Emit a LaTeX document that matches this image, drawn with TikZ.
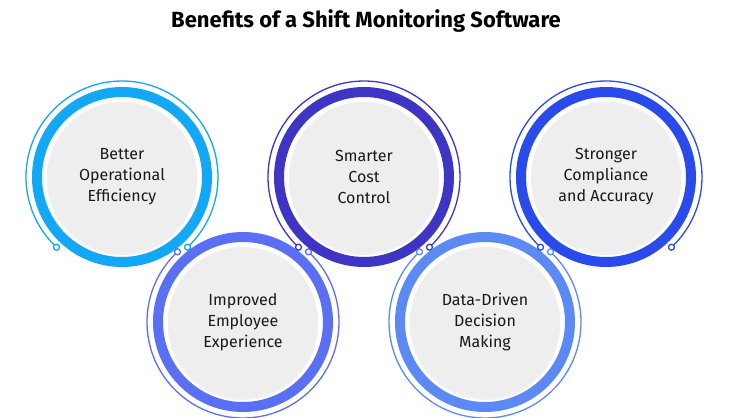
\documentclass[tikz,border=0pt]{standalone}
\usepackage{fontspec}
\setmainfont{Fira Sans}
\begin{document}
\begin{tikzpicture}[x=1pt,y=-1pt,
  disc/.style={circle,fill=gray!13,minimum size=150pt,inner sep=0pt,align=center,font=\fontsize{16}{21}\selectfont,text=black!90},
  ring/.style={line width=10pt},
  thin/.style={line width=1.3pt},
  dot/.style={circle,draw,fill=white,line width=1.3pt,minimum size=6pt,inner sep=0pt}]
\useasboundingbox (0,0) rectangle (732,418);
\fill[white] (0,0) rectangle (732,418);
\node[font=\fontsize{22}{24}\selectfont\bfseries] (title) at (366,21) {Benefits of a Shift Monitoring Software};
\definecolor{c1}{HTML}{12A8F5}
\definecolor{c2}{HTML}{5B6FF5}
\definecolor{c3}{HTML}{3F35C4}
\definecolor{c4}{HTML}{5B8AF5}
\definecolor{c5}{HTML}{2A4BEB}
\foreach \n/\x/\y/\c/\t/\top in {
  a/122/177/c1/{Better\\Operational\\Efficiency}/1,
  b/243/322/c2/{Improved\\Employee\\Experience}/0,
  c/364/177/c3/{Smarter\\Cost\\Control}/1,
  d/485/322/c4/{Data-Driven\\Decision\\Making}/0,
  e/606/177/c5/{Stronger\\Compliance\\and Accuracy}/1}{
  \draw[ring,\c] (\x,\y) circle[radius=85];
  \fill[black,opacity=0.06] (\x,\y+3) circle[radius=75];
  \node[disc] (\n) at (\x,\y) {\t};
  \ifnum\top=1
    \draw[thin,\c] (\x,\y) ++(47:96) coordinate (\n1) arc[start angle=47,end angle=-227,radius=96] coordinate (\n2);
  \else
    \draw[thin,\c] (\x,\y) ++(-133:96) coordinate (\n1) arc[start angle=-133,end angle=-407,radius=96] coordinate (\n2);
  \fi
  \node[dot,draw=\c] at (\n1) {};
  \node[dot,draw=\c] at (\n2) {};
}
\end{tikzpicture}
\end{document}
